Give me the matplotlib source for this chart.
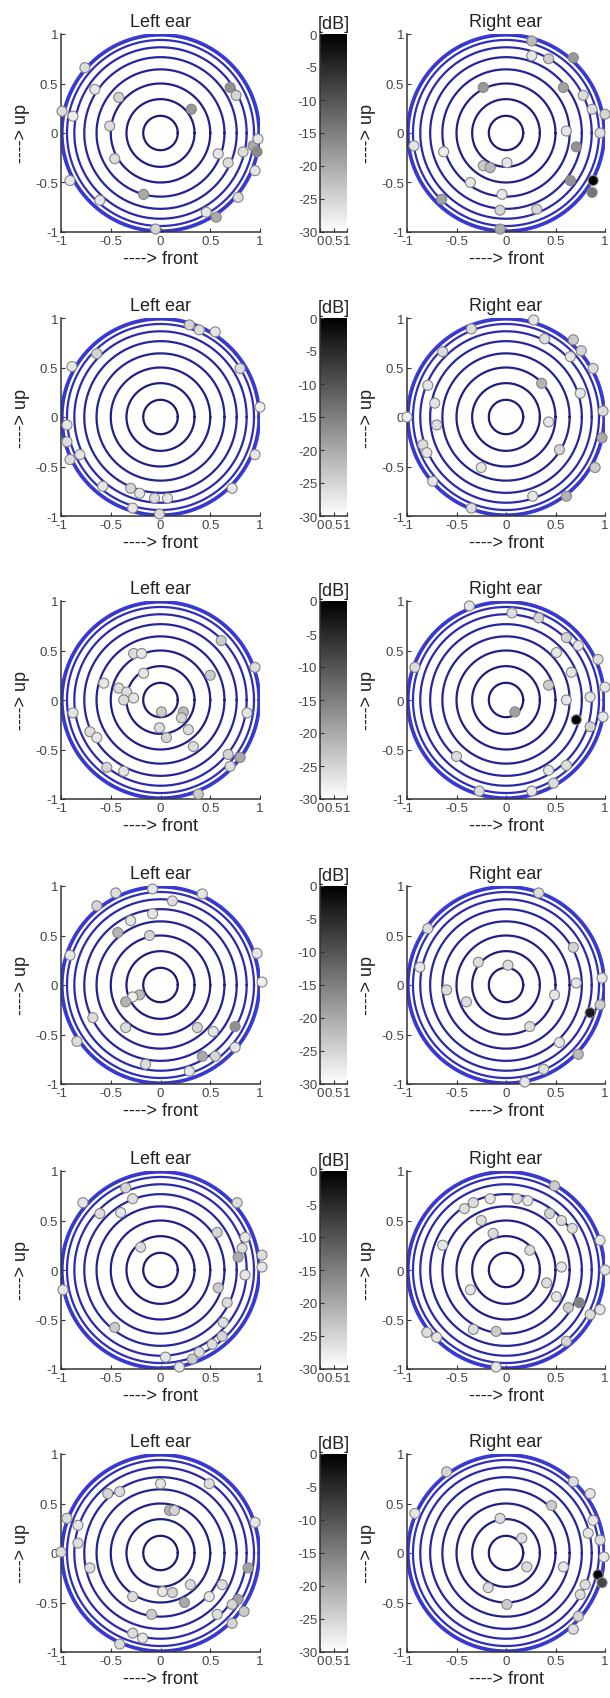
import matplotlib
matplotlib.use("Agg")
import matplotlib.pyplot as plt
import numpy as np

plt.rcParams['font.family'] = ['Liberation Sans', 'DejaVu Sans']
plt.rcParams['axes.unicode_minus'] = False

# ring radii: constant lateral angle circles (10..90 deg)
ring_deg = [10, 20, 30, 40, 50, 60, 70, 80, 90]
cbar_ticks = [0, -5, -10, -15, -20, -25, -30]
cbar_xticks = [0, 0.5, 1]
cbar_xlabels = ['0', '0.5', '1']
axis_ticks = [-1, -0.5, 0, 0.5, 1]
axis_labels = ['-1', '-0.5', '0', '0.5', '1']

# row 1
l1_x = [-0.76, -0.66, -0.42, -0.99, -0.88, -0.51, -0.46, -0.91, -0.61, -0.17, -0.05, 0.31, 0.70, 0.76, 0.58, 0.68, 0.83, 0.93, 0.98, 0.97, 0.95, 0.78, 0.56, 0.46]
l1_y = [0.66, 0.44, 0.36, 0.22, 0.17, 0.07, -0.26, -0.48, -0.68, -0.62, -0.97, 0.24, 0.46, 0.38, -0.21, -0.30, -0.19, -0.13, -0.06, -0.19, -0.38, -0.65, -0.85, -0.80]
l1_db = [-26, -27, -25, -26, -28, -26, -26, -27, -27, -20, -25, -18, -17, -25, -27, -26, -26, -20, -27, -16, -27, -26, -20, -27]
r1_x = [0.26, 0.26, 0.43, 0.68, -0.23, 0.58, 0.78, 0.87, 1.0, 0.61, 0.71, 0.95, -0.63, -0.93, 0.01, -0.23, -0.16, -0.36, -0.04, 0.65, 0.88, 0.87, -0.65, -0.06, 0.31, -0.06]
r1_y = [0.93, 0.78, 0.75, 0.76, 0.46, 0.46, 0.38, 0.24, 0.19, 0.02, -0.14, 0.0, -0.19, -0.13, -0.30, -0.33, -0.35, -0.50, -0.62, -0.48, -0.48, -0.60, -0.67, -0.78, -0.77, -0.97]
r1_db = [-22, -27, -24, -18, -18, -19, -26, -26, -25, -27, -17, -26, -28, -27, -27, -24, -22, -27, -27, -17, 0, -14, -19, -25, -25, -20]

# row 2
l2_x = [0.29, 0.39, 0.55, -0.64, -0.89, 0.80, 1.0, -0.94, -0.94, -0.91, -0.81, -0.58, -0.30, -0.21, -0.06, 0.07, -0.28, -0.01, 0.95, 0.72]
l2_y = [0.93, 0.88, 0.86, 0.64, 0.51, 0.49, 0.10, -0.08, -0.25, -0.43, -0.38, -0.70, -0.72, -0.77, -0.82, -0.82, -0.92, -0.98, -0.38, -0.72]
l2_db = [-25, -26, -27, -25, -27, -26, -28, -27, -26, -26, -27, -27, -25, -27, -26, -27, -27, -26, -27, -27]
r2_x = [0.28, -0.35, 0.39, 0.68, 0.76, 0.65, -0.64, 0.88, -0.79, 0.36, 0.75, -0.72, -0.70, -1.0, 0.98, 0.43, 0.97, -0.84, -0.80, 0.54, -0.25, 0.90, -0.74, 0.27, 0.61, -0.35]
r2_y = [0.98, 0.89, 0.79, 0.78, 0.67, 0.61, 0.66, 0.49, 0.32, 0.34, 0.24, 0.14, -0.08, 0.0, 0.06, -0.05, -0.21, -0.28, -0.36, -0.33, -0.51, -0.51, -0.65, -0.80, -0.80, -0.92]
r2_db = [-27, -26, -26, -24, -25, -27, -26, -26, -27, -21, -27, -27, -26, -28, -26, -27, -20, -26, -27, -25, -27, -24, -27, -27, -21, -26]

# row 3
l3_x = [0.61, -0.27, -0.19, 0.95, -0.17, 0.50, -0.57, -0.42, -0.34, -0.27, -0.37, 0.01, 0.23, 0.21, -0.88, 0.87, -0.01, 0.06, 0.28, -0.71, -0.64, 0.33, 0.68, 0.80, 0.70, -0.54, -0.37, 0.38]
l3_y = [0.60, 0.47, 0.47, 0.33, 0.27, 0.25, 0.17, 0.12, 0.08, 0.02, 0.0, -0.12, -0.12, -0.18, -0.13, -0.13, -0.28, -0.38, -0.30, -0.32, -0.38, -0.47, -0.55, -0.58, -0.67, -0.68, -0.72, -0.95]
l3_db = [-24, -26, -27, -26, -27, -24, -27, -26, -26, -27, -26, -24, -22, -25, -27, -27, -26, -25, -26, -26, -27, -26, -25, -20, -26, -25, -27, -24]
r3_x = [-0.37, 0.06, 0.33, 0.61, 0.73, 0.51, -0.92, 0.93, 0.66, 0.43, 0.61, 0.85, 1.0, 0.98, 0.09, 0.71, 0.85, -0.50, 0.43, 0.61, 0.48, -0.27, 0.26]
r3_y = [0.95, 0.88, 0.83, 0.63, 0.55, 0.48, 0.33, 0.41, 0.28, 0.15, 0.0, 0.03, 0.13, -0.17, -0.12, -0.20, -0.27, -0.57, -0.71, -0.66, -0.84, -0.92, -0.92]
r3_db = [-27, -26, -25, -25, -27, -27, -26, -26, -27, -24, -27, -27, -27, -27, -19, 0, -25, -26, -27, -26, -26, -26, -27]

# row 4
l4_x = [-0.08, -0.45, 0.12, 0.42, -0.64, -0.08, -0.30, -0.43, -0.11, -0.91, 0.97, 1.02, -0.21, -0.28, -0.35, -0.68, -0.35, 0.37, 0.53, 0.75, -0.84, 0.42, 0.55, 0.75, -0.15, 0.29]
l4_y = [0.97, 0.93, 0.85, 0.92, 0.80, 0.72, 0.65, 0.53, 0.50, 0.30, 0.32, 0.03, -0.10, -0.12, -0.17, -0.33, -0.43, -0.43, -0.47, -0.42, -0.57, -0.72, -0.72, -0.63, -0.80, -0.87]
l4_db = [-27, -26, -26, -27, -25, -27, -27, -21, -25, -27, -27, -28, -22, -28, -21, -26, -26, -25, -27, -17, -26, -20, -25, -27, -26, -27]
r4_x = [0.33, -0.79, 0.68, -0.28, 0.02, -0.87, 0.97, 0.71, -0.60, 0.49, -0.40, 0.85, 0.95, 0.24, 0.54, 0.73, 0.38, 0.19]
r4_y = [0.93, 0.57, 0.38, 0.23, 0.20, 0.18, 0.07, 0.02, -0.05, -0.10, -0.17, -0.28, -0.20, -0.42, -0.58, -0.70, -0.85, -0.98]
r4_db = [-26, -26, -25, -26, -26, -27, -27, -27, -26, -27, -26, -3, -24, -26, -27, -22, -26, -27]

# row 5
l5_x = [-0.35, -0.28, -0.78, -0.61, -0.40, 0.77, 0.57, -0.20, 0.85, 0.82, 0.78, 1.02, 1.02, 0.85, 0.58, -0.98, 0.67, -0.46, 0.63, 0.62, 0.52, 0.39, 0.32, 0.05, 0.19]
l5_y = [0.83, 0.72, 0.68, 0.57, 0.58, 0.68, 0.38, 0.23, 0.33, 0.22, 0.13, 0.15, 0.03, -0.05, -0.18, -0.20, -0.33, -0.58, -0.53, -0.67, -0.75, -0.83, -0.90, -0.88, -0.98]
l5_db = [-25, -26, -27, -26, -27, -26, -25, -26, -27, -26, -20, -26, -27, -27, -24, -27, -26, -24, -26, -25, -26, -26, -24, -27, -27]
r5_x = [0.49, -0.33, -0.16, 0.11, 0.22, -0.42, 0.44, 0.56, -0.25, -0.13, 0.67, -0.64, 0.24, 0.95, 0.56, 1.0, 0.41, -0.36, 0.51, 0.74, 0.63, 0.95, 0.85, -0.33, -0.10, -0.80, -0.70, 0.61, -0.10]
r5_y = [0.85, 0.68, 0.72, 0.72, 0.70, 0.62, 0.57, 0.50, 0.50, 0.37, 0.42, 0.25, 0.20, 0.30, 0.03, 0.0, -0.13, -0.20, -0.27, -0.33, -0.38, -0.40, -0.45, -0.60, -0.62, -0.63, -0.68, -0.72, -0.98]
r5_db = [-24, -26, -27, -26, -27, -26, -25, -26, -26, -26, -26, -27, -26, -27, -27, -27, -26, -27, -27, -15, -24, -27, -26, -26, -24, -26, -27, -25, -27]

# row 6
l6_x = [0.49, 0.0, -0.41, -0.53, 0.09, 0.14, -0.94, -0.83, 0.95, -0.83, -1.0, -0.71, 0.88, 0.30, 0.02, -0.28, 0.12, 0.24, 0.49, 0.62, 0.78, 0.72, 0.84, 0.57, -0.09, -0.28, -0.18, -0.41, 0.72]
l6_y = [0.70, 0.70, 0.62, 0.60, 0.43, 0.43, 0.35, 0.28, 0.31, 0.10, 0.01, -0.15, -0.15, -0.32, -0.39, -0.44, -0.40, -0.50, -0.44, -0.32, -0.47, -0.52, -0.59, -0.62, -0.62, -0.81, -0.86, -0.92, -0.71]
l6_db = [-26, -27, -26, -25, -21, -25, -26, -27, -27, -26, -26, -26, -19, -26, -27, -26, -25, -20, -27, -26, -19, -25, -24, -26, -24, -26, -27, -26, -25]
r6_x = [-0.60, 0.68, 0.85, -0.92, 0.46, -0.06, 0.16, 0.88, 0.83, 0.95, 0.99, 0.21, 0.58, 0.93, 0.97, 0.80, -0.18, 0.75, 0.01, 0.73, 0.68]
r6_y = [0.82, 0.72, 0.60, 0.40, 0.48, 0.35, 0.15, 0.33, 0.20, 0.13, -0.04, -0.14, -0.14, -0.22, -0.30, -0.32, -0.35, -0.42, -0.52, -0.64, -0.77]
r6_db = [-25, -26, -27, -27, -24, -26, -26, -27, -27, -26, -27, -26, -27, 0, -8, -26, -26, -26, -24, -25, -26]

left_x = [l1_x, l2_x, l3_x, l4_x, l5_x, l6_x]
left_y = [l1_y, l2_y, l3_y, l4_y, l5_y, l6_y]
left_db = [l1_db, l2_db, l3_db, l4_db, l5_db, l6_db]
right_x = [r1_x, r2_x, r3_x, r4_x, r5_x, r6_x]
right_y = [r1_y, r2_y, r3_y, r4_y, r5_y, r6_y]
right_db = [r1_db, r2_db, r3_db, r4_db, r5_db, r6_db]

W, H = 610, 1699
row_top = [35, 319, 602, 887, 1172, 1455]
ax_h = 198
ring_cols = ['#1c1c78', '#1e1e80', '#202088', '#232392', '#26269c', '#2a2aa8', '#2e2eb8', '#3434c8', '#3a3ad6']
tcol = '#222222'

fig = plt.figure(figsize=(W / 100, H / 100), dpi=100)


def style_axes(ax):
    for s in ['top', 'right']:
        ax.spines[s].set_visible(False)
    for s in ['left', 'bottom']:
        ax.spines[s].set_color('#333333')
        ax.spines[s].set_linewidth(1.1)
    ax.tick_params(direction='in', length=3, width=0.8, colors='#333333',
                   labelsize=9.5, labelcolor='#444444', pad=2)


def ear_panel(ax, xs, ys, dbs, title):
    t = np.linspace(0, 2 * np.pi, 361)
    for d, c in zip(ring_deg, ring_cols):
        r = np.sin(np.radians(d))
        ax.plot(r * np.cos(t), r * np.sin(t), color=c, lw=1.6, zorder=2)
    ax.scatter(xs, ys, c=dbs, cmap='gray_r', vmin=-30, vmax=0, s=52,
               edgecolors='#858585', linewidths=0.8, zorder=3, clip_on=False)
    ax.set_xlim(-1, 1)
    ax.set_ylim(-1, 1)
    ax.set_xticks(axis_ticks)
    ax.set_xticklabels(axis_labels)
    ax.set_yticks(axis_ticks)
    ax.set_yticklabels(axis_labels)
    style_axes(ax)
    ax.set_title(title, fontsize=13, color=tcol, pad=6)
    ax.set_xlabel('----> front', fontsize=13, color=tcol, labelpad=2)
    ax.set_ylabel('----> up', fontsize=13, color=tcol, labelpad=4)


grad = np.linspace(0, -30, 256).reshape(-1, 1)

for i in range(6):
    y0 = 1 - (row_top[i] + ax_h) / H
    axl = fig.add_axes([61 / W, y0, 199 / W, ax_h / H])
    ear_panel(axl, left_x[i], left_y[i], left_db[i], 'Left ear')

    axc = fig.add_axes([320 / W, y0, 27 / W, ax_h / H])
    axc.imshow(grad, cmap='gray_r', vmin=-30, vmax=0, aspect='auto',
               extent=[0, 1, -30, 0], origin='upper')
    axc.set_xlim(0, 1)
    axc.set_ylim(-30, 0)
    axc.set_yticks(cbar_ticks)
    axc.set_xticks(cbar_xticks)
    axc.set_xticklabels(cbar_xlabels)
    style_axes(axc)
    axc.set_title('[dB]', fontsize=13, color=tcol, pad=4)

    axr = fig.add_axes([407 / W, y0, 198 / W, ax_h / H])
    ear_panel(axr, right_x[i], right_y[i], right_db[i], 'Right ear')

fig.savefig('out.png', dpi=100, facecolor='white')
